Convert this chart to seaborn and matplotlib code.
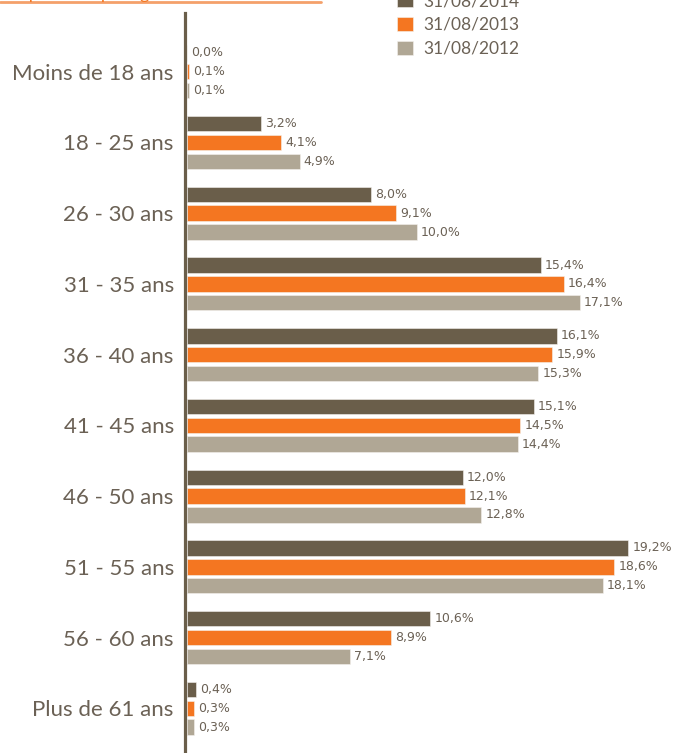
import pandas as pd
import matplotlib.pyplot as plt
from matplotlib.lines import Line2D
import seaborn as sns

# Data (percent of staff by age band)
categories = ["Moins de 18 ans", "18 - 25 ans", "26 - 30 ans", "31 - 35 ans",
              "36 - 40 ans", "41 - 45 ans", "46 - 50 ans", "51 - 55 ans",
              "56 - 60 ans", "Plus de 61 ans"]
dates = ["31/08/2014", "31/08/2013", "31/08/2012"]
vals_2014 = [0.0, 3.2, 8.0, 15.4, 16.1, 15.1, 12.0, 19.2, 10.6, 0.4]
vals_2013 = [0.1, 4.1, 9.1, 16.4, 15.9, 14.5, 12.1, 18.6, 8.9, 0.3]
vals_2012 = [0.1, 4.9, 10.0, 17.1, 15.3, 14.4, 12.8, 18.1, 7.1, 0.3]

colors = ["#6a5e4a", "#f47621", "#b0a795"]
text_col = "#6b6155"

df = pd.DataFrame({
    "age": categories * 3,
    "date": [d for d in dates for _ in categories],
    "pct": vals_2014 + vals_2013 + vals_2012,
})

sns.set_theme(style="white")
plt.rcParams['font.family'] = ['DejaVu Sans']

fig = plt.figure(figsize=(6.73, 7.53), dpi=100)
ax = fig.add_axes([187 / 673, 0, 1 - 187 / 673, 1 - 13 / 753])

sns.barplot(data=df, y="age", x="pct", hue="date", order=categories,
            hue_order=dates, palette=colors, orient="h", width=0.8, gap=0.18,
            edgecolor="#f4f2ee", linewidth=0.4, saturation=1, ax=ax)

# value labels like "15,4%"
for cont, vals in zip(ax.containers, [vals_2014, vals_2013, vals_2012]):
    labels = [f"{v:.1f}".replace(".", ",") + "%" for v in vals]
    ax.bar_label(cont, labels=labels, padding=3, fontsize=9, color=text_col)

ax.set_xlim(0, 486 / 22.97)
ax.set_ylim(9.632, -0.830)
ax.set_xlabel("")
ax.set_ylabel("")
ax.set_xticks([])

for side in ["top", "right", "bottom"]:
    ax.spines[side].set_visible(False)
ax.spines["left"].set_color("#6a5e4a")
ax.spines["left"].set_linewidth(2.3)
ax.spines["left"].set_position(("outward", 1.5))

# tick labels styled after moving the spine (set_position resets them)
ax.tick_params(axis="y", length=0, pad=8, labelsize=16, labelcolor=text_col)
for lab in ax.get_yticklabels():
    lab.set_family(["Lato", "DejaVu Sans"])
    lab.set_color(text_col)

# legend, partly cut off at the top like the source
handles, labels = ax.get_legend_handles_labels()
ax.legend_.remove()
leg = fig.legend(handles, labels, loc="center left",
                 bbox_to_anchor=(397 / 673, 1 - 25 / 753), frameon=False,
                 borderpad=0, borderaxespad=0, handlelength=0.95,
                 handleheight=0.85, handletextpad=0.55, labelspacing=0.45,
                 prop={"family": ["Lato", "DejaVu Sans"], "size": 12.5})
for t in leg.get_texts():
    t.set_color(text_col)

# clipped orange heading with underline
fig.text(8 / 673, 1 + 1 / 753, "Répartition par âge des salariés",
         va="baseline", ha="left", color="#f47621", fontsize=13,
         family=["Lato", "DejaVu Sans"])
fig.add_artist(Line2D([0, 321 / 673], [1 - 1.5 / 753] * 2,
                      color="#f4a06a", linewidth=2))

fig.savefig("out.png", dpi=100)
